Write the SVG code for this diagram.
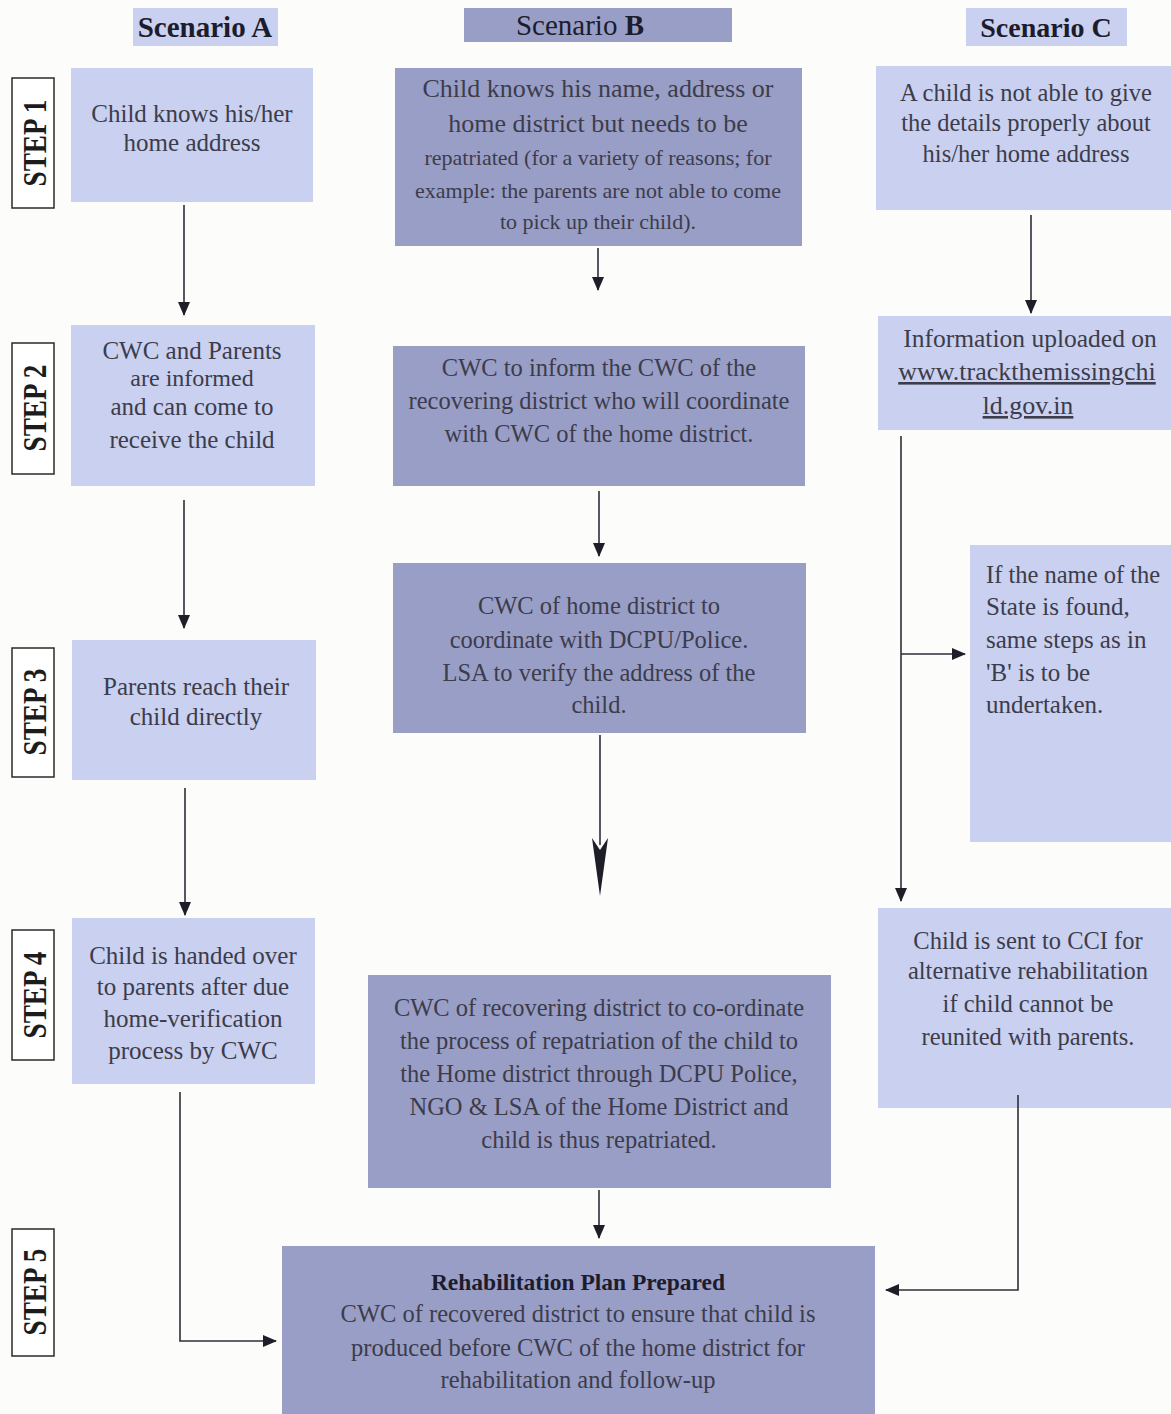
<svg xmlns="http://www.w3.org/2000/svg" width="1171" height="1414" viewBox="0 0 1171 1414">
<defs>
<style>
.bg{fill:#fcfcfa}
.lt{fill:#c9d0f0}
.dk{fill:#999ec7}
.hd{font-family:"Liberation Serif",serif;font-size:28px;font-weight:bold;fill:#1c1c2c;text-anchor:middle}
.st{fill:#ffffff;stroke:#2a2a2a;stroke-width:1.5}
.stt{font-family:"Liberation Serif",serif;font-size:34px;font-weight:bold;fill:#1c1c1c;text-anchor:middle}
.t{font-family:"Liberation Serif",serif;font-size:25px;fill:#3c3c4a;text-anchor:middle}
.tm{font-family:"Liberation Serif",serif;font-size:24.5px;fill:#3c3c4a;text-anchor:middle}
.ts{font-family:"Liberation Serif",serif;font-size:22px;fill:#3c3c4a;text-anchor:middle}
.tl{font-family:"Liberation Serif",serif;font-size:25px;fill:#3c3c4a;text-anchor:start}
.c{stroke:#2e2e3a;stroke-width:1.6;fill:none}
</style>
<marker id="ar" markerUnits="userSpaceOnUse" markerWidth="14" markerHeight="12" refX="13" refY="6" orient="auto">
<path d="M0,0 L14,6 L0,12 z" fill="#1e1e28"/>
</marker>
</defs>
<rect class="bg" x="0" y="0" width="1171" height="1414"/>

<g id="header-a"><rect class="lt" x="133" y="8" width="145" height="38"/><text class="hd" x="205" y="37" style="font-size:29px">Scenario A</text></g>
<g id="header-b"><rect class="dk" x="464" y="8" width="268" height="34"/><text class="hd" x="580" y="35" style="font-size:29px"><tspan style="font-weight:normal">Scenario </tspan>B</text></g>
<g id="header-c"><rect class="lt" x="966" y="8" width="161" height="38"/><text class="hd" x="1046" y="37">Scenario C</text></g>

<g id="step1"><rect class="st" x="12" y="78" width="42" height="130"/><text class="stt" transform="translate(46,143) rotate(-90) scale(0.8,1)">STEP 1</text></g>
<g id="step2"><rect class="st" x="12" y="343" width="42" height="131"/><text class="stt" transform="translate(46,408) rotate(-90) scale(0.8,1)">STEP 2</text></g>
<g id="step3"><rect class="st" x="12" y="648" width="42" height="129"/><text class="stt" transform="translate(46,712) rotate(-90) scale(0.8,1)">STEP 3</text></g>
<g id="step4"><rect class="st" x="12" y="930" width="42" height="130"/><text class="stt" transform="translate(46,995) rotate(-90) scale(0.8,1)">STEP 4</text></g>
<g id="step5"><rect class="st" x="12" y="1229" width="42" height="127"/><text class="stt" transform="translate(46,1292) rotate(-90) scale(0.8,1)">STEP 5</text></g>

<g id="a1"><rect class="lt" x="71" y="68" width="242" height="134"/>
<text class="t" x="192" y="122">Child knows his/her</text>
<text class="t" x="192" y="151">home address</text></g>
<g id="a2"><rect class="lt" x="71" y="325" width="244" height="161"/>
<text class="t" x="192" y="359">CWC and Parents</text>
<text class="t" x="192" y="386" style="font-size:24px">are informed</text>
<text class="t" x="192" y="415">and can come to</text>
<text class="t" x="192" y="448">receive the child</text></g>
<g id="a3"><rect class="lt" x="72" y="640" width="244" height="140"/>
<text class="t" x="196" y="695">Parents reach their</text>
<text class="t" x="196" y="725">child directly</text></g>
<g id="a4"><rect class="lt" x="72" y="918" width="243" height="166"/>
<text class="t" x="193" y="964">Child is handed over</text>
<text class="t" x="193" y="995">to parents after due</text>
<text class="t" x="193" y="1027">home-verification</text>
<text class="t" x="193" y="1059">process by CWC</text></g>

<g id="b1"><rect class="dk" x="395" y="68" width="407" height="178"/>
<text class="t" x="598" y="97" style="font-size:26px">Child knows his name, address or</text>
<text class="t" x="598" y="132" style="font-size:26px">home district but needs to be</text>
<text class="ts" x="598" y="165">repatriated (for a variety of reasons; for</text>
<text class="ts" x="598" y="198">example: the parents are not able to come</text>
<text class="ts" x="598" y="229">to pick up their child).</text></g>
<g id="b2"><rect class="dk" x="393" y="346" width="412" height="140"/>
<text class="tm" x="599" y="376">CWC to inform the CWC of the</text>
<text class="tm" x="599" y="409">recovering district who will coordinate</text>
<text class="tm" x="599" y="442">with CWC of the home district.</text></g>
<g id="b3"><rect class="dk" x="393" y="563" width="413" height="170"/>
<text class="tm" x="599" y="614">CWC of home district to</text>
<text class="tm" x="599" y="648">coordinate with DCPU/Police.</text>
<text class="tm" x="599" y="681">LSA to verify the address of the</text>
<text class="tm" x="599" y="713">child.</text></g>
<g id="b4"><rect class="dk" x="368" y="975" width="463" height="213"/>
<text class="tm" x="599" y="1016">CWC of recovering district to co-ordinate</text>
<text class="tm" x="599" y="1049">the process of repatriation of the child to</text>
<text class="tm" x="599" y="1082">the Home district through DCPU Police,</text>
<text class="tm" x="599" y="1115">NGO &amp; LSA of the Home District and</text>
<text class="tm" x="599" y="1148">child is thus repatriated.</text></g>
<g id="b5"><rect class="dk" x="282" y="1246" width="593" height="168"/>
<text class="tm" x="578" y="1290" style="font-size:23.5px;font-weight:bold;fill:#1c1c2c">Rehabilitation Plan Prepared</text>
<text class="tm" x="578" y="1322">CWC of recovered district to ensure that child is</text>
<text class="tm" x="578" y="1356">produced before CWC of the home district  for</text>
<text class="tm" x="578" y="1388">rehabilitation and follow-up</text></g>

<g id="c1"><rect class="lt" x="876" y="66" width="295" height="144"/>
<text class="tm" x="1026" y="101">A child is not able to give</text>
<text class="tm" x="1026" y="131">the details properly about</text>
<text class="tm" x="1026" y="162">his/her home address</text></g>
<g id="c2"><rect class="lt" x="878" y="316" width="293" height="114"/>
<text class="t" x="1030" y="347" style="font-size:25.5px">Information uploaded on</text>
<text class="t" x="1027" y="380" style="font-size:26px" text-decoration="underline">www.trackthemissingchi</text>
<text class="t" x="1028" y="414" style="font-size:26px" text-decoration="underline">ld.gov.in</text></g>
<g id="c3"><rect class="lt" x="970" y="545" width="201" height="297"/>
<text class="tl" x="986" y="583" style="font-size:24.5px">If the name of the</text>
<text class="tl" x="986" y="615">State is found,</text>
<text class="tl" x="986" y="648">same steps as in</text>
<text class="tl" x="986" y="681">'B' is to be</text>
<text class="tl" x="986" y="713">undertaken.</text></g>
<g id="c4"><rect class="lt" x="878" y="908" width="293" height="200"/>
<text class="tm" x="1028" y="949">Child is sent to CCI for</text>
<text class="tm" x="1028" y="979">alternative rehabilitation</text>
<text class="tm" x="1028" y="1012">if child cannot be</text>
<text class="tm" x="1028" y="1045">reunited with parents.</text></g>

<g id="connectors">
<line class="c" x1="184" y1="205" x2="184" y2="315" marker-end="url(#ar)"/>
<line class="c" x1="184" y1="500" x2="184" y2="628" marker-end="url(#ar)"/>
<line class="c" x1="185" y1="788" x2="185" y2="915" marker-end="url(#ar)"/>
<polyline class="c" points="180,1092 180,1341 276,1341" marker-end="url(#ar)"/>
<line class="c" x1="598" y1="248" x2="598" y2="290" marker-end="url(#ar)"/>
<line class="c" x1="599" y1="491" x2="599" y2="556" marker-end="url(#ar)"/>
<line class="c" x1="600" y1="735" x2="600" y2="845"/>
<polygon points="592,838 600,850 608,838 600,896" fill="#1e1e28"/>
<line class="c" x1="599" y1="1190" x2="599" y2="1238" marker-end="url(#ar)"/>
<line class="c" x1="1031" y1="215" x2="1031" y2="313" marker-end="url(#ar)"/>
<line class="c" x1="901" y1="436" x2="901" y2="901" marker-end="url(#ar)"/>
<line class="c" x1="901" y1="654" x2="965" y2="654" marker-end="url(#ar)"/>
<polyline class="c" points="1018,1095 1018,1290 886,1290" marker-end="url(#ar)"/>
</g>
</svg>
